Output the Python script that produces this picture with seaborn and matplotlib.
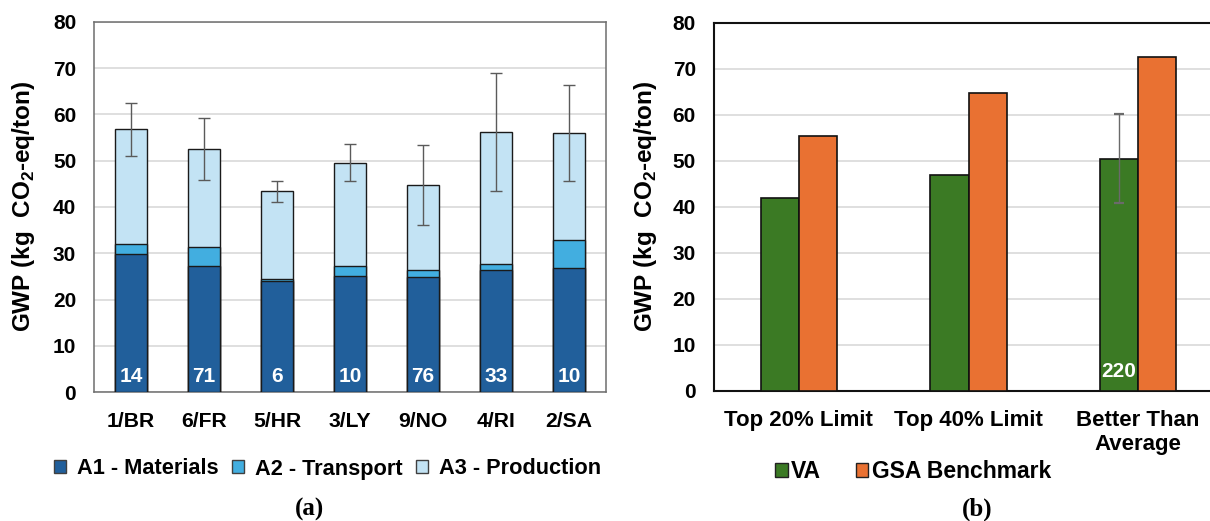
import numpy as np
import pandas as pd
import matplotlib
matplotlib.use("Agg")
import matplotlib.pyplot as plt
from matplotlib.patches import Patch
import seaborn as sns

# ---- panel (a): cradle-to-gate GWP by plant ----
sites = ["1/BR", "6/FR", "5/HR", "3/LY", "9/NO", "4/RI", "2/SA"]
a1_materials = [29.9, 27.3, 24.0, 25.1, 24.9, 26.4, 26.9]
a2_transport = [2.1, 4.0, 0.5, 2.2, 1.6, 1.2, 6.0]
a3_production = [24.8, 21.2, 18.9, 22.3, 18.2, 28.6, 23.1]
site_sd = [5.7, 6.7, 2.3, 3.9, 8.6, 12.7, 10.4]
site_n = [14, 71, 6, 10, 76, 33, 10]

# ---- panel (b): VA results vs. GSA benchmark ----
levels = ["Top 20% Limit", "Top 40% Limit", "Better Than\nAverage"]
va_gwp = [41.9, 46.9, 50.4]
gsa_gwp = [55.3, 64.7, 72.6]
va_sd = [None, None, 9.7]
va_n = [None, None, 220]

C_A1, C_A2, C_A3 = "#215f9b", "#42aee0", "#c3e3f4"
C_VA, C_GSA = "#3b7a24", "#e97132"
GRID = "#d9d9d9"

sns.set_style("white")
plt.rcParams["font.family"] = ["Liberation Sans", "DejaVu Sans"]
plt.rcParams["font.weight"] = "bold"
plt.rcParams["mathtext.fontset"] = "custom"
plt.rcParams["mathtext.rm"] = "Liberation Sans:bold"
plt.rcParams["mathtext.bf"] = "Liberation Sans:bold"
for key in ["text.color", "axes.labelcolor", "xtick.color", "ytick.color"]:
    plt.rcParams[key] = "black"

fig = plt.figure(figsize=(12.10, 5.21), dpi=100)
W, H = 1210, 521

def px_axes(l, t, r, b):
    return fig.add_axes([l / W, 1 - b / H, (r - l) / W, (b - t) / H])

ax1 = px_axes(94.3, 21.7, 605.7, 392.3)
ax2 = px_axes(714, 22.7, 1223, 390.7)

ylabel = r"GWP (kg  CO$_{2}$-eq/ton)"

# stacked bars drawn as cumulative layers, back to front
df_a = pd.DataFrame({"site": sites,
                     "a1": a1_materials,
                     "a2": a2_transport,
                     "a3": a3_production})
df_a["a12"] = df_a["a1"] + df_a["a2"]
df_a["total"] = df_a["a12"] + df_a["a3"]

for col, c in [("total", C_A3), ("a12", C_A2), ("a1", C_A1)]:
    sns.barplot(data=df_a, x="site", y=col, color=c, saturation=1,
                width=0.43, edgecolor="#1a1a1a", linewidth=1.0,
                errorbar=None, ax=ax1, zorder=3)

n_sites = len(sites)
total_bars = ax1.patches[:n_sites]
for p, sd, n in zip(total_bars, site_sd, site_n):
    xc = p.get_x() + p.get_width() / 2
    ax1.errorbar(xc, p.get_height(), yerr=sd, color="#5a5a5a", lw=1.0,
                 capsize=4.5, capthick=1.0, zorder=4)
    ax1.text(xc, 2.2, str(n), color="white", ha="center", va="baseline",
             fontsize=15, fontweight="bold", zorder=5)

# grouped bars for panel (b)
df_b = pd.DataFrame({"level": levels * 2,
                     "gwp": va_gwp + gsa_gwp,
                     "series": ["VA"] * 3 + ["GSA Benchmark"] * 3})
sns.barplot(data=df_b, x="level", y="gwp", hue="series",
            palette=[C_VA, C_GSA], saturation=1, width=0.45,
            edgecolor="#111111", linewidth=1.2, errorbar=None,
            legend=False, ax=ax2, zorder=3)

va_bars = ax2.patches[:3]
for p, sd, n in zip(va_bars, va_sd, va_n):
    xc = p.get_x() + p.get_width() / 2
    if sd is not None:
        ax2.errorbar(xc, p.get_height(), yerr=sd, color="#6a6a6a", lw=1.0,
                     capsize=3.5, capthick=1.6, zorder=4)
    if n is not None:
        ax2.text(xc, 2.9, str(n), color="white", ha="center", va="baseline",
                 fontsize=15, fontweight="bold", zorder=5)

for ax, n_cat, xsize, spine_c, spine_w in [(ax1, len(sites), 15.2, "#6e6e6e", 1.1),
                                           (ax2, len(levels), 16, "#111111", 1.5)]:
    ax.set_xlim(-0.5, n_cat - 0.5)
    ax.set_ylim(0, 80)
    ax.set_yticks(range(0, 81, 10))
    ax.yaxis.grid(True, color=GRID, lw=1.2, zorder=0)
    ax.xaxis.grid(False)
    ax.set_axisbelow(True)
    ax.set_xlabel("")
    ax.set_ylabel(ylabel, fontsize=17.5, fontweight="bold")
    ax.tick_params(axis="y", length=0, pad=13, labelsize=15)
    ax.tick_params(axis="x", length=0, pad=14, labelsize=xsize)
    for lab in ax.get_xticklabels() + ax.get_yticklabels():
        lab.set_fontweight("bold")
    for s in ax.spines.values():
        s.set_color(spine_c)
        s.set_linewidth(spine_w)

ax1.yaxis.set_label_coords(-0.112, 0.5)
ax2.yaxis.set_label_coords(-0.108, 0.5)

# legends
leg_a = [Patch(facecolor=C_A1, edgecolor="#404040", label="A1 - Materials"),
         Patch(facecolor=C_A2, edgecolor="#404040", label="A2 - Transport"),
         Patch(facecolor=C_A3, edgecolor="#404040", label="A3 - Production")]
fig.legend(handles=leg_a, loc="center", bbox_to_anchor=(327.5 / W, 1 - 469 / H),
           ncol=3, frameon=False, handlelength=0.56, handleheight=0.56,
           handletextpad=0.5, columnspacing=0.6,
           prop={"weight": "bold", "size": 15.7})

leg_b = [Patch(facecolor=C_VA, edgecolor="#222222", label="VA"),
         Patch(facecolor=C_GSA, edgecolor="#222222", label="GSA Benchmark")]
fig.legend(handles=leg_b, loc="center", bbox_to_anchor=(913 / W, 1 - 472 / H),
           ncol=2, frameon=False, handlelength=0.55, handleheight=0.55,
           handletextpad=0.15, columnspacing=1.5,
           prop={"weight": "bold", "size": 16.5})

# panel captions
for txt, xc in [("(a)", 309), ("(b)", 977)]:
    fig.text(xc / W, 1 - 509 / H, txt, ha="center", va="center",
             family="Liberation Serif", fontweight="bold", fontsize=18)

fig.savefig("out.png", dpi=100)
